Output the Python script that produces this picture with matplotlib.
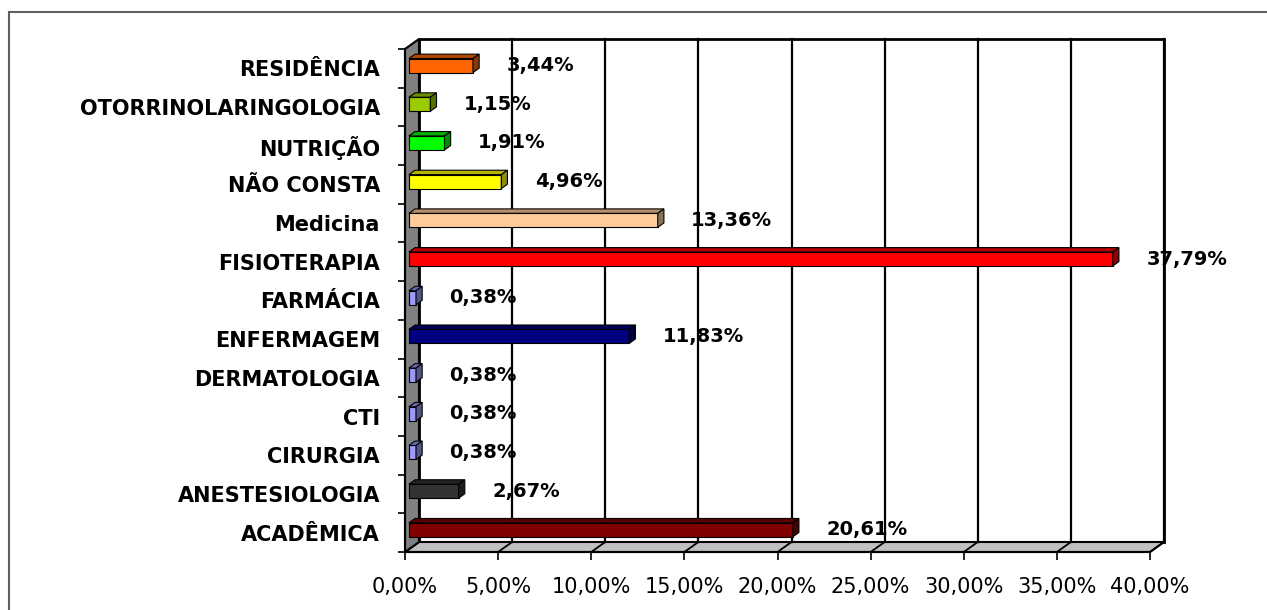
import matplotlib
matplotlib.use('Agg')
import matplotlib.pyplot as plt
from matplotlib.colors import to_rgb
from matplotlib.patches import Polygon, Rectangle
from matplotlib.ticker import FixedLocator

plt.rcParams['font.family'] = ['DejaVu Sans']

# bottom to top, as drawn
categories = ['ACADÊMICA', 'ANESTESIOLOGIA', 'CIRURGIA', 'CTI', 'DERMATOLOGIA',
              'ENFERMAGEM', 'FARMÁCIA', 'FISIOTERAPIA', 'Medicina', 'NÃO CONSTA',
              'NUTRIÇÃO', 'OTORRINOLARINGOLOGIA', 'RESIDÊNCIA']
values = [20.61, 2.67, 0.38, 0.38, 0.38, 11.83, 0.38, 37.79, 13.36, 4.96, 1.91, 1.15, 3.44]
colors = ['#800000', '#333333', '#9999ff', '#9999ff', '#9999ff', '#000080', '#9999ff',
          '#ff0000', '#ffcc99', '#ffff00', '#00ff00', '#99cc00', '#ff6600']
x_ticks = [0, 5, 10, 15, 20, 25, 30, 35, 40]


def shade(color, k=0.6):
    return tuple(c * k for c in to_rgb(color))


def pct(v):
    return f'{v:.2f}%'.replace('.', ',')


W, H = 1267, 610
fig = plt.figure(figsize=(W / 100, H / 100), dpi=100)
ax = fig.add_axes([405 / W, 58 / H, 745 / W, 503 / H])
xmax = 40
ny = len(categories)
ax.set_xlim(0, xmax)
ax.set_ylim(-0.5, ny - 0.5)

# depth of the 3d box, in data units
DX = 14 / 745 * xmax
DY = 10 / 503 * ny
y0, y1 = -0.5, ny - 0.5

floor = Polygon([(0, y0), (xmax, y0), (xmax + DX, y0 + DY), (DX, y0 + DY)],
                closed=True, facecolor='#c0c0c0', edgecolor='black', lw=1.5,
                clip_on=False, zorder=1)
wall_left = Polygon([(0, y0), (DX, y0 + DY), (DX, y1 + DY), (0, y1)],
                    closed=True, facecolor='#808080', edgecolor='black', lw=1.5,
                    clip_on=False, zorder=1)
wall_back = Rectangle((DX, y0 + DY), xmax, y1 - y0, facecolor='white',
                      edgecolor='black', lw=2, clip_on=False, zorder=1)
for p in (wall_back, floor, wall_left):
    ax.add_patch(p)

for x in x_ticks[1:]:
    ax.plot([x + DX, x + DX], [y0 + DY, y1 + DY], color='black', lw=1.6,
            clip_on=False, zorder=1.5)
    ax.plot([x, x + DX], [y0, y0 + DY], color='black', lw=1.3,
            clip_on=False, zorder=1.5)

# bars sit in the middle of the depth
f0, f1 = 0.28, 0.72
h = 7 / 503 * ny
for i, (v, c) in enumerate(zip(values, colors)):
    xa, ya = f0 * DX, i + f0 * DY
    ddx, ddy = (f1 - f0) * DX, (f1 - f0) * DY
    front = Rectangle((xa, ya - h), v, 2 * h, facecolor=c, edgecolor='black',
                      lw=0.8, clip_on=False, zorder=3)
    top = Polygon([(xa, ya + h), (xa + v, ya + h), (xa + v + ddx, ya + h + ddy),
                   (xa + ddx, ya + h + ddy)], closed=True, facecolor=shade(c, 0.7),
                  edgecolor='black', lw=0.8, clip_on=False, zorder=3)
    side = Polygon([(xa + v, ya - h), (xa + v + ddx, ya - h + ddy),
                    (xa + v + ddx, ya + h + ddy), (xa + v, ya + h)], closed=True,
                   facecolor=shade(c, 0.55), edgecolor='black', lw=0.8,
                   clip_on=False, zorder=3)
    for p in (front, top, side):
        ax.add_patch(p)
    ax.text(xa + v + 1.8, ya, pct(v), ha='left', va='center', fontsize=14,
            fontweight='bold', color='black', zorder=4, clip_on=False)

ax.set_xticks(x_ticks)
ax.set_xticklabels([pct(x) for x in x_ticks], fontsize=15)
ax.set_yticks(range(ny))
ax.set_yticklabels(categories, fontsize=15, fontweight='bold')
ax.yaxis.set_minor_locator(FixedLocator([k - 0.5 for k in range(ny + 1)]))
ax.tick_params(axis='y', which='major', length=0, pad=18)
ax.tick_params(axis='y', which='minor', length=5, width=1.2, direction='out')
ax.tick_params(axis='x', length=6, width=1.2, pad=12)

for s in ('top', 'right'):
    ax.spines[s].set_visible(False)
for s in ('left', 'bottom'):
    ax.spines[s].set_linewidth(1.5)
    ax.spines[s].set_zorder(2)
ax.patch.set_visible(False)

# outer chart-area border (only left and top fall inside the picture)
fig.patches.append(Rectangle((8.5 / W, -0.1), 1.2, (H - 12) / H + 0.1,
                             transform=fig.transFigure, fill=False,
                             edgecolor='#606060', lw=1.5))

fig.savefig('out.png', dpi=100)
